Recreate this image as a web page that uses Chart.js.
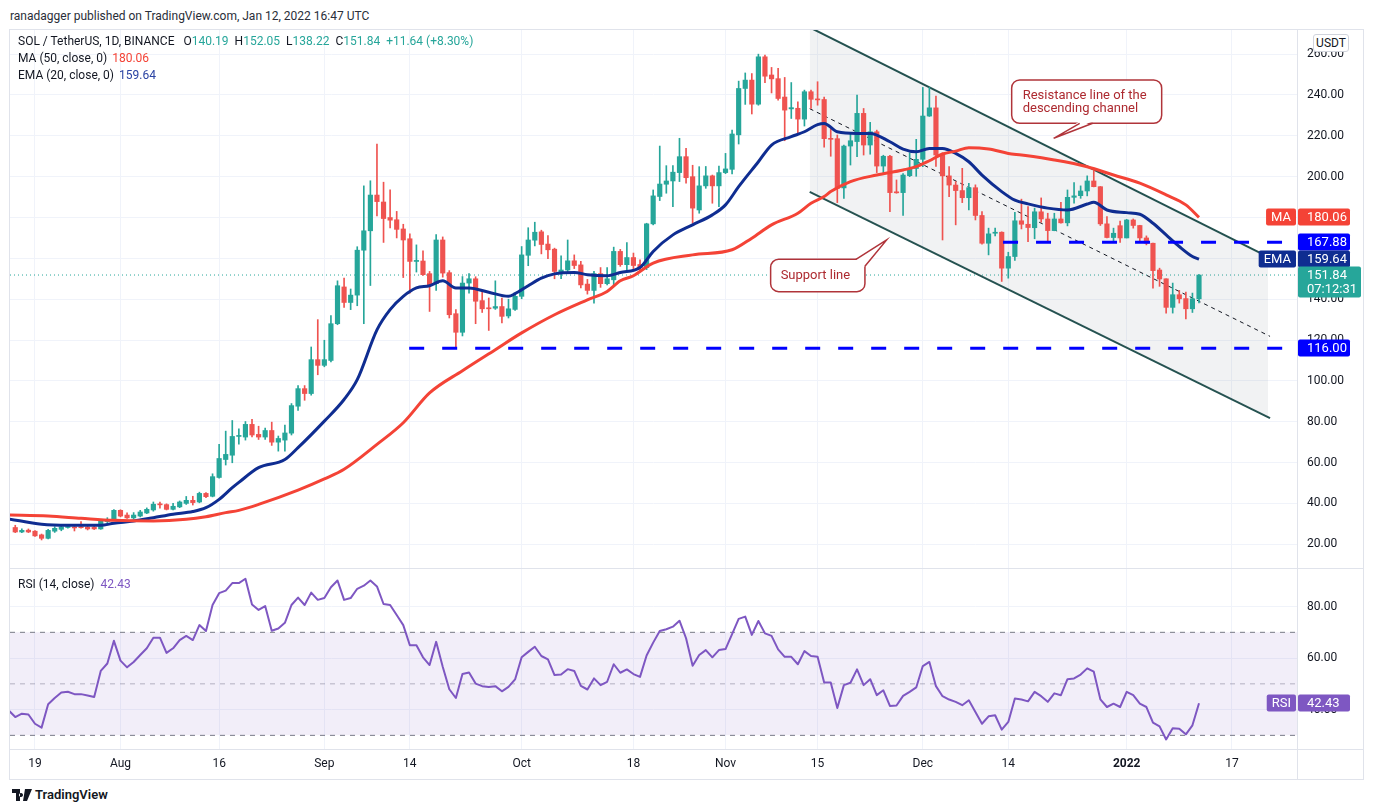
<!DOCTYPE html>
<html>
<head>
<meta charset="utf-8">
<script src="https://cdn.jsdelivr.net/npm/chart.js@4.4.1/dist/chart.umd.min.js"></script>
<style>
  html, body { margin: 0; padding: 0; background: #fff; }
  body { width: 1375px; height: 812px; position: relative; overflow: hidden;
         font-family: Roboto, 'Noto Sans', sans-serif; color: #131722; }
  .abs { position: absolute; }
  #pub { left: 10px; top: 7px; font-size: 12px; line-height: 18px; color: #2a2e39; }
  #mainBox { left: 10px; top: 30px; width: 1353px; height: 538px; }
  #rsiBox { left: 10px; top: 568px; width: 1353px; height: 211px; }
  .hl { background: #e0e3eb; height: 1px; }
  .vl { background: #e0e3eb; width: 1px; }
  #legend { left: 18px; top: 33px; font-size: 12px; line-height: 17px; color: #131722; }
  #legend span.v { margin-left: 5px; }
  #legend .teal { color: #26a69a; }
  #legend .gap { margin-left: 6px; }
  #rsiLegend { left: 18px; top: 576px; font-size: 12px; line-height: 17px; }
  #usdt { left: 1313px; top: 34px; width: 34px; height: 16px; border: 1px solid #d1d4dc; border-radius: 3px;
          background: #fff; font-size: 12px; line-height: 16px; text-align: center; color: #131722; }
  #logo { left: 12px; top: 786px; font-size: 13px; line-height: 18px; font-weight: 600; color: #131722;
          display: flex; align-items: center; gap: 3px; }
</style>
</head>
<body>
<div id="pub" class="abs">ranadagger published on TradingView.com, Jan 12, 2022 16:47 UTC</div>

<div id="mainBox" class="abs"><canvas id="mainChart"></canvas></div>
<div id="rsiBox" class="abs"><canvas id="rsiChart"></canvas></div>

<div class="abs hl" style="left:10px;top:29px;width:1354px"></div>
<div class="abs hl" style="left:10px;top:568px;width:1354px"></div>
<div class="abs hl" style="left:10px;top:749px;width:1354px"></div>
<div class="abs hl" style="left:10px;top:779px;width:1354px"></div>
<div class="abs vl" style="left:9px;top:29px;height:751px"></div>
<div class="abs vl" style="left:1297px;top:29px;height:751px"></div>
<div class="abs vl" style="left:1363px;top:29px;height:751px"></div>

<div id="legend" class="abs"></div>
<div id="rsiLegend" class="abs"></div>
<div id="usdt" class="abs">USDT</div>
<div id="logo" class="abs">
  <svg width="20" height="12" viewBox="0 0 20 12"><path d="M0 0h8v12H4V4H0z M9 4a2 2 0 1 0 0.01 0z M13 0h7l-5 12h-4z" fill="#131722"/></svg>
  <span>TradingView</span>
</div>

<script>
// day 0 = Jul 19 2021; first candle is Jul 16
const startDay = -3;
const opens = [28.2,26.0,26.9,26.4,24.6,22.9,26.4,27.3,28.2,28.4,28.4,28.4,28.4,27.5,31.1,31.8,36.6,34.3,32.9,33.8,35.3,36.8,39.6,39.4,37.1,38.3,40.0,41.5,40.7,44.9,43.5,52.7,61.5,63.6,72.8,72.5,78.7,73.8,72.5,75.7,70.0,71.0,74.4,87.6,96.2,93.8,110.4,107.6,110.0,128.0,146.0,138.4,142.0,164.0,173.5,191.0,187.6,180.0,178.9,174.4,169.6,158.5,158.7,152.5,147.6,169.0,153.0,132.9,123.8,147.9,150.0,139.3,135.8,135.6,136.4,131.8,135.0,141.4,161.5,168.9,173.0,167.0,164.5,153.0,154.3,158.8,156.8,147.4,144.3,152.5,147.6,149.5,163.4,156.9,160.4,157.0,155.5,176.9,190.3,196.3,197.9,202.0,209.8,200.0,183.7,195.5,200.4,195.5,202.0,203.6,220.5,243.2,247.3,235.5,258.7,249.8,248.0,239.0,233.2,233.5,228.2,241.6,238.0,237.8,218.6,218.6,194.5,215.0,217.2,231.0,215.5,222.0,205.2,210.0,192.4,192.2,200.5,204.0,208.5,229.7,233.7,211.0,200.4,195.9,193.2,189.7,194.6,181.0,167.4,172.3,172.8,155.2,160.9,178.4,176.7,175.0,182.8,179.3,173.6,179.3,177.4,189.9,190.7,193.0,197.9,195.1,176.9,170.2,176.0,170.0,178.8,176.1,170.0,167.4,154.3,150.0,136.0,142.2,140.3,135.3,140.19];
const highs = [29.3,27.6,27.5,26.7,25.0,27.3,28.6,29.3,29.4,29.0,31.1,28.9,29.0,31.8,33.0,37.0,36.9,35.4,35.5,36.6,37.8,40.7,40.6,39.8,40.0,41.2,43.4,43.5,45.5,45.3,54.5,68.9,75.4,80.6,76.5,80.1,81.2,77.8,76.9,79.8,73.0,78.3,88.9,97.7,97.7,116.6,130.0,119.9,132.0,149.0,150.4,145.0,165.7,195.5,198.0,216.0,197.3,193.5,183.0,176.7,172.0,166.6,163.7,153.6,171.7,170.5,154.0,134.9,151.1,152.5,151.0,144.3,140.6,149.0,140.6,140.0,142.7,165.8,175.0,177.7,173.8,171.2,165.0,161.3,169.0,161.7,158.5,149.7,153.7,155.5,155.5,165.5,164.4,167.7,162.6,159.3,177.2,193.5,215.0,205.4,205.4,218.8,213.9,205.6,204.9,205.0,200.8,205.2,211.4,222.8,246.8,250.8,250.5,260.0,259.5,253.5,253.0,248.6,246.1,236.7,242.4,242.4,246.5,239.0,223.5,220.4,215.5,221.2,240.0,233.4,226.6,222.8,210.5,210.5,198.4,201.5,211.7,218.3,243.7,243.7,239.5,211.7,204.9,197.6,204.1,196.8,196.0,182.9,174.8,174.8,173.0,163.0,182.6,189.0,185.3,184.6,189.6,182.1,182.1,187.5,193.5,197.1,195.5,200.4,203.6,195.2,180.5,174.8,178.3,179.1,179.3,176.2,171.0,167.5,155.2,150.0,147.9,144.3,143.5,143.0,152.05];
const lows = [25.7,25.7,25.7,23.8,22.1,22.6,25.8,26.6,27.9,26.5,27.9,27.0,27.2,27.3,30.6,31.5,33.4,32.6,32.3,33.4,35.0,36.2,37.7,36.8,36.8,37.9,39.5,39.2,40.3,42.8,43.2,52.3,58.8,59.9,69.0,71.0,72.6,71.3,71.3,68.4,65.6,65.6,73.5,85.5,90.5,93.0,103.0,106.9,109.3,127.5,136.0,134.9,136.8,128.0,146.7,180.8,167.8,174.9,170.0,150.6,143.0,153.3,151.6,134.0,144.3,150.8,130.8,115.8,122.0,143.0,128.0,133.5,124.7,135.0,128.4,130.8,134.5,140.2,156.4,166.1,162.2,159.8,150.0,150.0,153.5,155.0,145.5,142.5,138.0,145.8,147.0,147.0,156.1,153.5,154.4,153.8,154.5,176.4,188.3,191.9,185.3,197.6,196.8,177.2,182.1,194.3,187.0,185.3,201.5,201.3,216.0,235.4,230.7,235.0,246.0,241.0,237.5,217.6,228.5,220.9,224.8,233.4,235.0,214.4,210.0,187.3,189.4,205.7,209.8,210.6,211.0,202.0,201.7,182.9,191.9,181.0,200.0,200.2,204.9,229.5,205.0,169.0,190.2,176.4,187.3,183.7,178.8,167.0,161.7,171.0,148.7,150.3,159.0,174.4,168.2,169.6,177.7,168.6,173.5,177.2,175.9,187.0,189.4,190.6,195.0,176.1,170.0,168.2,167.8,170.0,174.8,168.6,166.6,145.4,146.3,133.2,133.2,138.1,130.3,133.5,138.22];
const closes = [26.0,26.8,26.0,24.1,22.9,26.8,27.8,28.5,28.7,28.0,28.1,27.5,27.5,31.4,32.2,36.6,33.8,32.9,34.3,35.8,37.1,39.6,39.3,37.1,38.6,40.7,41.5,40.4,44.9,43.3,53.1,62.0,64.0,72.8,72.9,78.7,73.5,72.5,75.7,70.0,71.8,74.5,87.9,96.2,93.8,110.4,107.6,110.4,128.0,146.6,138.4,142.0,164.0,173.5,191.0,187.8,179.5,178.7,174.2,169.0,158.5,158.8,152.0,147.0,169.0,152.8,132.4,123.8,147.9,150.0,139.0,135.3,135.3,136.4,131.6,135.3,141.4,161.7,169.0,172.8,166.8,164.2,153.6,154.3,158.8,156.5,147.0,144.3,152.5,147.6,150.0,163.4,156.9,160.4,156.5,155.5,176.9,190.6,196.4,197.9,202.2,209.8,199.5,184.6,195.5,200.4,195.5,202.0,203.8,220.9,243.2,247.3,235.5,258.7,249.2,247.9,238.3,232.6,233.8,228.2,241.6,237.9,237.6,218.6,218.3,194.3,215.0,217.6,231.0,215.5,222.0,205.2,210.0,192.2,192.1,200.8,204.1,208.5,229.7,233.7,210.6,200.4,195.9,193.2,189.7,194.6,181.0,167.4,172.0,172.8,155.2,160.9,178.4,176.7,175.1,182.8,179.3,173.6,179.3,177.4,189.9,190.6,193.0,197.9,195.1,176.9,170.2,172.3,170.0,178.8,176.1,170.0,167.4,154.0,149.9,136.0,142.2,140.2,135.3,140.20,151.84];

// moving averages at sample days
const emaDays   = [-4,1,5,10,12,15,18,21,24,26,28,30,31,34,38,40,44,47,49,52,54,56,58,60,62,64,66,69,72,73,75,77,79,82,84,87,89,92,94,97,100,103,105,107,110,112,115,117,119,120,122,125,127,130,132,134,136,138,140,142,144,147,149,151,154,157,160,161,163,166,168,170,172,174,176,177];
const emaValues = [32.4,29.8,29.3,29.3,30.3,31.4,33.0,34.7,36.0,37.9,42.0,47.7,50.3,57.5,61.5,67.3,80.3,90.9,100.6,125.0,134.9,141.4,145.5,146.6,149.0,145.5,145.5,143.4,141.4,142.7,146.6,150.3,152.4,153.1,152.0,151.5,153.1,155.5,163.4,171.5,176.4,181.3,186.2,195.1,207.3,215.5,219.6,222.0,225.5,226.1,222.0,221.2,221.2,217.1,213.5,212.2,213.8,213.8,211.4,207.3,200.8,192.7,188.5,186.7,184.6,183.7,186.6,187.5,183.7,182.4,181.6,177.2,171.5,165.8,160.9,159.64];
const maDays   = [-4,2,7,12,18,23,26,29,31,34,40,44,47,52,56,60,65,70,74,79,84,87,89,91,94,100,106,109,112,116,118,120,121,124,128,132,134,136,138,140,142,145,148,150,155,160,164,168,172,175,177];
const maValues = [34.3,33.8,32.7,31.7,31.4,32.2,33.5,35.5,36.6,39.5,46.5,52.0,56.7,68.9,79.5,94.1,105.0,115.3,123.5,132.4,139.7,143.8,149.0,151.5,157.7,161.7,164.2,169.9,176.4,182.1,187.0,190.3,192.7,197.6,200.8,203.3,204.9,207.8,211.1,212.5,214.2,213.6,211.4,210.6,208.2,204.9,200.8,196.8,191.1,186.2,180.06];

// RSI(14), one value per day from Jul 15
const rsiStart = -4;
const rsiValues = [39.7,37.1,38.4,38.1,34.5,33.0,42.1,44.5,46.6,46.9,46.0,46.0,45.5,44.9,55.0,57.9,66.7,59.0,56.4,58.5,61.2,63.8,67.9,67.9,62.0,63.8,67.0,68.6,67.0,72.8,70.5,80.6,85.2,86.2,89.1,89.1,90.8,80.8,78.7,80.2,70.6,71.5,73.7,80.6,83.5,80.6,85.4,82.6,83.3,87.5,90.1,82.6,83.3,86.9,88.1,90.1,87.8,81.0,80.6,76.7,72.8,65.0,65.0,60.3,57.3,66.3,56.6,47.9,44.5,53.8,54.4,50.1,49.1,48.8,49.1,47.1,48.8,51.7,60.3,62.4,64.4,60.8,59.5,53.4,53.6,55.7,55.0,49.2,47.8,52.1,49.5,50.8,57.6,54.3,55.6,53.8,52.7,61.0,66.0,70.5,71.2,72.2,74.5,67.7,57.0,61.2,63.1,60.3,63.1,63.5,69.3,75.2,76.1,69.0,74.4,69.6,68.6,63.4,60.5,60.5,57.6,62.7,60.8,60.5,50.5,50.5,40.6,49.5,50.4,55.6,49.5,51.8,45.6,47.5,41.4,41.6,45.3,46.9,48.6,56.9,58.5,49.1,45.2,43.9,43.0,41.7,43.6,39.1,34.5,37.4,37.8,32.2,35.2,44.3,43.9,43.2,46.9,45.2,43.0,46.3,45.6,51.8,52.1,53.6,56.0,54.7,44.0,41.0,42.3,41.0,46.9,45.6,42.3,41.0,34.9,33.5,28.4,32.8,32.6,30.4,33.9,42.43];

// drawings: [day, price]
const channelUpper = [[117.8, 273.1], [187.5, 160.7]];
const channelLower = [[117.8, 192.6], [187.8, 81.8]];
const channelMid   = [[117.8, 233.3], [187.8, 121.8]];
const levelPrices = [116.0, 167.88];
const levelStarts = [56.9, 147.2];
const calloutAnchors = [[154.9, 218.8], [129.5, 169.0]];
const calloutTexts = [['Resistance line of the', 'descending channel'], ['Support line']];

const priceTicks = [20, 40, 60, 80, 100, 120, 140, 160, 180, 200, 220, 240, 260];
const rsiTicks = [40, 60, 80];
const rsiLevels = [70, 50, 30];
const xTickDays   = [0, 13, 28, 44, 57, 74, 91, 105, 119, 135, 148, 166, 182];
const xTickLabels = ['19', 'Aug', '16', 'Sep', '14', 'Oct', '18', 'Nov', '15', 'Dec', '14', '2022', '17'];

const X_MIN = -3.8, X_MAX = 191.9;
const UP = '#26a69a', DOWN = '#ef5350';
const MA_COLOR = '#f44336', EMA_COLOR = '#0f2d91', RSI_COLOR = '#7e57c2';
const GRID = '#f0f3fa';
const FONT = "Roboto, 'Noto Sans', sans-serif";

Chart.defaults.font.family = FONT;
Chart.defaults.color = '#131722';

const days = closes.map((_, i) => startDay + i);
const last = closes.length - 1;
const lastMa = maValues[maValues.length - 1];
const lastEma = emaValues[emaValues.length - 1];
const lastRsi = rsiValues[rsiValues.length - 1];

// legends
const chg = closes[last] - closes[last - 1];
const pct = chg / closes[last - 1] * 100;
document.getElementById('legend').innerHTML =
  `<div>SOL / TetherUS, 1D, BINANCE<span class="gap" style="margin-left:9px">O</span><span class="teal">${opens[last].toFixed(2)}</span>` +
  `<span class="gap">H</span><span class="teal">${highs[last].toFixed(2)}</span>` +
  `<span class="gap">L</span><span class="teal">${lows[last].toFixed(2)}</span>` +
  `<span class="gap">C</span><span class="teal">${closes[last].toFixed(2)}</span>` +
  `<span class="gap teal">+${chg.toFixed(2)} (+${pct.toFixed(2)}%)</span></div>` +
  `<div>MA (50, close, 0)<span class="v" style="color:${MA_COLOR}">${lastMa.toFixed(2)}</span></div>` +
  `<div>EMA (20, close, 0)<span class="v" style="color:#2a43a3">${lastEma.toFixed(2)}</span></div>`;
document.getElementById('rsiLegend').innerHTML =
  `RSI (14, close)<span style="margin-left:6px;color:${RSI_COLOR}">${lastRsi.toFixed(2)}</span>`;

function pts(pairs) {
    return pairs.map(p => ({ x: p[0], y: p[1] }));
}

function zeroPad(scale) {
    scale.paddingTop = 0;
    scale.paddingBottom = 0;
    scale.paddingLeft = 0;
    scale.paddingRight = 0;
}

// price tags on the right axis
const axisTags = {
    id: 'axisTags',
    afterDraw(chart, args, opts) {
        const { ctx, chartArea } = chart;
        const y = chart.scales.y;
        ctx.save();
        ctx.font = `13px ${FONT}`;
        ctx.textBaseline = 'middle';
        opts.items.forEach(t => {
            const py = Math.round(y.getPixelForValue(t.value));
            const h = t.sub ? 31 : 17;
            const w = t.sub ? 63 : 52;
            ctx.fillStyle = t.bg;
            ctx.beginPath();
            ctx.roundRect(chartArea.right + 1, py - 8.5, w, h, 2);
            ctx.fill();
            ctx.fillStyle = '#fff';
            ctx.textAlign = 'left';
            ctx.fillText(t.text, chartArea.right + 10, py + 0.5);
            if (t.sub) ctx.fillText(t.sub, chartArea.right + 10, py + 14.5);
            if (t.label) {
                const lw = ctx.measureText(t.label).width + 10;
                ctx.fillStyle = t.bg;
                ctx.beginPath();
                ctx.roundRect(chartArea.right - lw - 1, py - 8.5, lw, 17, 2);
                ctx.fill();
                ctx.fillStyle = '#fff';
                ctx.textAlign = 'center';
                ctx.fillText(t.label, chartArea.right - 1 - lw / 2, py + 0.5);
            }
        });
        ctx.restore();
    }
};

// speech-bubble notes anchored to a (day, price) point
const callouts = {
    id: 'callouts',
    afterDatasetsDraw(chart, args, opts) {
        const { ctx } = chart;
        const { x, y } = chart.scales;
        ctx.save();
        opts.items.forEach(c => {
            const tx = x.getPixelForValue(c.at[0]);
            const ty = y.getPixelForValue(c.at[1]);
            const bx = tx + c.box[0], by = ty + c.box[1], bw = c.box[2], bh = c.box[3];
            ctx.lineWidth = 1.5;
            ctx.strokeStyle = '#b0343a';
            ctx.fillStyle = '#fff';
            ctx.beginPath();
            ctx.roundRect(bx, by, bw, bh, 8);
            ctx.fill();
            ctx.stroke();
            const b1 = [bx + c.base[0][0], by + c.base[0][1]];
            const b2 = [bx + c.base[1][0], by + c.base[1][1]];
            ctx.beginPath();
            ctx.moveTo(b1[0] + c.inset[0], b1[1] + c.inset[1]);
            ctx.lineTo(tx, ty);
            ctx.lineTo(b2[0] + c.inset[0], b2[1] + c.inset[1]);
            ctx.closePath();
            ctx.fill();
            ctx.beginPath();
            ctx.moveTo(b1[0], b1[1]);
            ctx.lineTo(tx, ty);
            ctx.lineTo(b2[0], b2[1]);
            ctx.stroke();
            ctx.fillStyle = '#ad2a30';
            ctx.font = `13px ${FONT}`;
            ctx.textBaseline = 'middle';
            ctx.textAlign = 'left';
            c.lines.forEach((ln, i) => ctx.fillText(ln, bx + c.textPos[0], by + c.textPos[1] + i * 12.5));
        });
        ctx.restore();
    }
};

// candles: wick + body as floating bars
const wickData = days.map((d, i) => ({ x: d, y: [lows[i], highs[i]] }));
const bodyData = days.map((d, i) => ({ x: d, y: [Math.min(opens[i], closes[i]), Math.max(opens[i], closes[i])] }));
const candleColors = days.map((d, i) => closes[i] >= opens[i] ? UP : DOWN);

const lineBase = { type: 'line', pointRadius: 0, fill: false, borderJoinStyle: 'round' };

new Chart(document.getElementById('mainChart'), {
    type: 'bar',
    data: {
        datasets: [
            { ...lineBase, data: pts(channelUpper), borderColor: '#23514f', borderWidth: 2,
              fill: '+1', backgroundColor: 'rgba(120,123,134,0.1)', order: 6 },
            { ...lineBase, data: pts(channelLower), borderColor: '#23514f', borderWidth: 2, order: 6 },
            { ...lineBase, data: pts(channelMid), borderColor: '#131722', borderWidth: 1, borderDash: [4, 4], order: 5 },
            { ...lineBase, data: [{ x: levelStarts[0], y: levelPrices[0] }, { x: X_MAX, y: levelPrices[0] }],
              borderColor: '#0000ff', borderWidth: 3, borderDash: [15, 18], order: 1 },
            { ...lineBase, data: [{ x: levelStarts[1], y: levelPrices[1] }, { x: X_MAX, y: levelPrices[1] }],
              borderColor: '#0000ff', borderWidth: 3, borderDash: [15, 18], order: 1 },
            { ...lineBase, data: [{ x: X_MIN, y: closes[last] }, { x: X_MAX, y: closes[last] }],
              borderColor: UP, borderWidth: 1, borderDash: [1, 3], order: 7 },
            { ...lineBase, data: maDays.map((d, i) => ({ x: d, y: maValues[i] })),
              borderColor: MA_COLOR, borderWidth: 3, cubicInterpolationMode: 'monotone', order: 2 },
            { ...lineBase, data: emaDays.map((d, i) => ({ x: d, y: emaValues[i] })),
              borderColor: EMA_COLOR, borderWidth: 3, cubicInterpolationMode: 'monotone', order: 2 },
            { type: 'bar', data: wickData, backgroundColor: candleColors, barThickness: 1,
              grouped: false, borderWidth: 0, order: 4 },
            { type: 'bar', data: bodyData, backgroundColor: candleColors, barThickness: 4.5,
              grouped: false, borderWidth: 0, minBarLength: 1, order: 3 }
        ]
    },
    options: {
        responsive: true,
        maintainAspectRatio: false,
        animation: false,
        events: [],
        layout: { padding: 0 },
        scales: {
            x: {
                type: 'linear', min: X_MIN, max: X_MAX, offset: false,
                grid: { color: GRID, offset: false, drawTicks: false },
                border: { display: false },
                ticks: { display: false },
                afterBuildTicks: s => { s.ticks = xTickDays.map(v => ({ value: v })); },
                afterFit: s => { s.height = 0; zeroPad(s); }
            },
            y: {
                position: 'right', min: 8.37, max: 271.83, beginAtZero: false,
                grid: { color: GRID, drawTicks: false },
                border: { display: false },
                ticks: { padding: 10, font: { size: 12 }, color: '#131722', callback: v => v.toFixed(2) },
                afterBuildTicks: s => { s.ticks = priceTicks.map(v => ({ value: v })); },
                afterFit: s => { s.width = 66; zeroPad(s); }
            }
        },
        plugins: {
            legend: { display: false },
            tooltip: { enabled: false },
            axisTags: {
                items: [
                    { value: lastMa, text: lastMa.toFixed(2), bg: MA_COLOR, label: 'MA' },
                    { value: levelPrices[1], text: levelPrices[1].toFixed(2), bg: '#0000ff' },
                    { value: lastEma, text: lastEma.toFixed(2), bg: EMA_COLOR, label: 'EMA' },
                    { value: closes[last], text: closes[last].toFixed(2), sub: '07:12:31', bg: UP },
                    { value: levelPrices[0], text: levelPrices[0].toFixed(2), bg: '#0000ff' }
                ]
            },
            callouts: {
                items: [
                    { at: calloutAnchors[0], lines: calloutTexts[0], box: [-42, -58.3, 150, 43.3],
                      base: [[68, 43.3], [81, 43.3]], inset: [0, -2], textPos: [11, 16] },
                    { at: calloutAnchors[1], lines: calloutTexts[1], box: [-116, 19.3, 94.3, 32.4],
                      base: [[85.3, 0], [94.3, 7]], inset: [-2, 2], textPos: [10, 16] }
                ]
            }
        }
    },
    plugins: [axisTags, callouts]
});

// RSI pane
const rsiDays = rsiValues.map((_, i) => rsiStart + i);
new Chart(document.getElementById('rsiChart'), {
    type: 'line',
    data: {
        datasets: [
            { ...lineBase, data: [{ x: X_MIN, y: rsiLevels[0] }, { x: X_MAX, y: rsiLevels[0] }],
              borderColor: '#787b86', borderWidth: 1, borderDash: [5, 5],
              fill: { target: 2 }, backgroundColor: 'rgba(126,87,194,0.1)', order: 3 },
            { ...lineBase, data: [{ x: X_MIN, y: rsiLevels[1] }, { x: X_MAX, y: rsiLevels[1] }],
              borderColor: 'rgba(120,123,134,0.5)', borderWidth: 1, borderDash: [5, 5], order: 3 },
            { ...lineBase, data: [{ x: X_MIN, y: rsiLevels[2] }, { x: X_MAX, y: rsiLevels[2] }],
              borderColor: '#787b86', borderWidth: 1, borderDash: [5, 5], order: 3 },
            { ...lineBase, data: rsiDays.map((d, i) => ({ x: d, y: rsiValues[i] })),
              borderColor: RSI_COLOR, borderWidth: 2, order: 1 }
        ]
    },
    options: {
        responsive: true,
        maintainAspectRatio: false,
        animation: false,
        events: [],
        layout: { padding: 0 },
        scales: {
            x: {
                type: 'linear', min: X_MIN, max: X_MAX,
                grid: { color: GRID, drawTicks: false },
                border: { display: false },
                ticks: {
                    padding: 8, autoSkip: false, maxRotation: 0, color: '#131722',
                    font: c => ({ size: 12, weight: c.tick && c.tick.label === '2022' ? 'bold' : 'normal' }),
                    callback: v => xTickLabels[xTickDays.indexOf(v)]
                },
                afterBuildTicks: s => { s.ticks = xTickDays.map(v => ({ value: v })); },
                afterFit: s => { s.height = 30; zeroPad(s); }
            },
            y: {
                position: 'right', min: 24.7, max: 94.97,
                grid: { color: GRID, drawTicks: false },
                border: { display: false },
                ticks: { padding: 10, font: { size: 12 }, color: '#131722', callback: v => v.toFixed(2) },
                afterBuildTicks: s => { s.ticks = rsiTicks.map(v => ({ value: v })); },
                afterFit: s => { s.width = 66; zeroPad(s); }
            }
        },
        plugins: {
            legend: { display: false },
            tooltip: { enabled: false },
            axisTags: {
                items: [{ value: lastRsi, text: lastRsi.toFixed(2), bg: RSI_COLOR, label: 'RSI' }]
            }
        }
    },
    plugins: [axisTags]
});
</script>
</body>
</html>
